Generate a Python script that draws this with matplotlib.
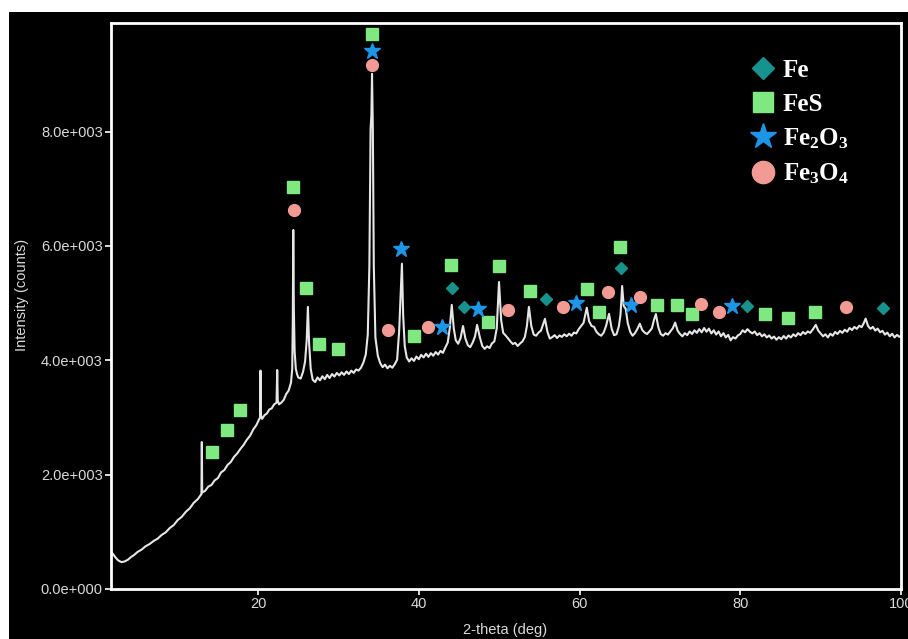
import matplotlib
matplotlib.use("Agg")
import matplotlib.pyplot as plt
from matplotlib.patches import Rectangle
from matplotlib.lines import Line2D
from matplotlib.ticker import FuncFormatter, FixedLocator

plt.rcParams['font.family'] = ['Liberation Sans', 'DejaVu Sans']
plt.rcParams['mathtext.fontset'] = 'custom'
plt.rcParams['mathtext.rm'] = 'Liberation Serif:bold'
plt.rcParams['mathtext.it'] = 'Liberation Serif:bold'
plt.rcParams['mathtext.bf'] = 'Liberation Serif:bold'

# ---------------- data ----------------
trace_2theta = [
    1.7, 2.0, 2.3, 2.6, 3.0, 3.4, 3.8, 4.2, 4.6, 5.0, 5.5, 6.0, 6.5, 7.0, 7.5, 8.0,
    8.5, 9.0, 9.5, 10.0, 10.5, 11.0, 11.5, 12.0, 12.5, 12.9, 12.95, 13.0, 13.05,
    13.4, 13.8, 14.2, 14.6, 15.0, 15.4, 15.8, 16.2, 16.6, 17.0, 17.4, 17.8, 18.2,
    18.6, 19.0, 19.4, 19.8, 20.1, 20.25, 20.3, 20.35, 20.5, 20.8, 21.1, 21.4, 21.7,
    22.0, 22.3, 22.38, 22.45, 22.6, 22.9, 23.2, 23.5, 23.8, 24.1, 24.25, 24.32,
    24.38, 24.45, 24.55, 24.7, 24.85, 25.0, 25.3, 25.6, 25.85, 26.05, 26.2, 26.35,
    26.55, 26.8, 27.1, 27.4, 27.7, 28.0, 28.3, 28.6, 28.9, 29.2, 29.5, 29.8, 30.1,
    30.4, 30.7, 31.0, 31.3, 31.6, 31.9, 32.2, 32.5, 32.8, 33.1, 33.4, 33.65, 33.85,
    34.0, 34.1, 34.18, 34.28, 34.4, 34.6, 34.9, 35.2, 35.5, 35.8, 36.1, 36.4, 36.7,
    37.0, 37.3, 37.55, 37.75, 37.9, 38.05, 38.25, 38.5, 38.8, 39.1, 39.4, 39.7,
    40.0, 40.3, 40.6, 40.9, 41.2, 41.5, 41.8, 42.1, 42.4, 42.7, 43.0, 43.3, 43.6,
    43.85, 44.1, 44.35, 44.6, 44.9, 45.2, 45.5, 45.8, 46.1, 46.4, 46.7, 47.0, 47.25,
    47.6, 47.9, 48.2, 48.5, 48.8, 49.1, 49.4, 49.7, 49.98, 50.25, 50.5, 50.8, 51.1,
    51.4, 51.7, 52.0, 52.3, 52.6, 52.9, 53.2, 53.45, 53.7, 54.0, 54.3, 54.6, 54.9,
    55.2, 55.45, 55.7, 56.0, 56.3, 56.6, 56.9, 57.2, 57.5, 57.8, 58.1, 58.4, 58.7,
    59.0, 59.3, 59.6, 59.9, 60.2, 60.5, 60.9, 61.2, 61.5, 61.8, 62.1, 62.4, 62.7,
    63.0, 63.3, 63.67, 64.0, 64.3, 64.6, 64.9, 65.1, 65.3, 65.5, 65.75, 66.0, 66.3,
    66.6, 66.9, 67.2, 67.5, 67.8, 68.1, 68.4, 68.7, 69.0, 69.25, 69.5, 69.8, 70.1,
    70.4, 70.7, 71.0, 71.3, 71.6, 71.9, 72.2, 72.5, 72.8, 73.1, 73.4, 73.7, 74.0,
    74.3, 74.6, 74.9, 75.2, 75.5, 75.8, 76.1, 76.4, 76.7, 77.0, 77.3, 77.6, 77.9,
    78.2, 78.5, 78.8, 79.1, 79.4, 79.7, 80.0, 80.3, 80.6, 80.9, 81.2, 81.5, 81.8,
    82.1, 82.4, 82.7, 83.0, 83.3, 83.6, 83.9, 84.2, 84.5, 84.8, 85.1, 85.4, 85.7,
    86.0, 86.3, 86.6, 86.9, 87.2, 87.5, 87.8, 88.1, 88.4, 88.7, 89.0, 89.4, 89.7,
    90.0, 90.3, 90.6, 90.9, 91.2, 91.5, 91.8, 92.1, 92.4, 92.7, 93.0, 93.3, 93.6,
    93.9, 94.2, 94.5, 94.8, 95.1, 95.35, 95.6, 95.9, 96.2, 96.5, 96.8, 97.1, 97.4,
    97.7, 98.0, 98.3, 98.6, 98.9, 99.2, 99.5, 99.8, 100.0,
]
trace_counts = [
    660, 600, 545, 500, 470, 482, 512, 560, 598, 648, 688, 748, 786, 840, 880, 945,
    990, 1065, 1118, 1205, 1262, 1348, 1412, 1508, 1572, 1650, 1655, 2570, 1690,
    1715, 1790, 1820, 1900, 1940, 2040, 2080, 2170, 2220, 2310, 2370, 2450, 2520,
    2610, 2680, 2790, 2870, 2960, 3000, 3820, 3040, 2975, 3040, 3070, 3140, 3160,
    3230, 3260, 3830, 3300, 3230, 3260, 3310, 3410, 3470, 3610, 3850, 4700,
    6280, 4900, 4150, 3850, 3760, 3700, 3680, 3800, 3980, 4350, 4935, 4300,
    3850, 3660, 3620, 3700, 3650, 3720, 3670, 3745, 3690, 3760, 3715, 3780, 3735,
    3790, 3745, 3805, 3760, 3820, 3780, 3840, 3820, 3870, 3960, 4100, 4450, 5650,
    8050, 8280, 9010, 8050, 5650, 4400, 4080, 3950, 3880, 3925, 3860, 3905, 3870,
    3930, 4010, 4500, 5200, 5690, 4800, 4250, 4050, 3980, 4035, 3990, 4065,
    4020, 4095, 4050, 4115, 4060, 4125, 4080, 4145, 4100, 4165, 4130, 4225, 4310,
    4560, 4970, 4560, 4350, 4290, 4390, 4600, 4380, 4265, 4230, 4310, 4420, 4620,
    4400, 4250, 4200, 4245, 4215, 4295, 4330, 4560, 5370, 4700, 4480, 4435, 4385,
    4330, 4285, 4305, 4250, 4295, 4330, 4410, 4600, 4935, 4600, 4450, 4430, 4485,
    4520, 4625, 4725, 4500, 4380, 4405, 4440, 4390, 4435, 4410, 4455, 4420, 4465,
    4430, 4485, 4470, 4545, 4600, 4655, 4920, 4680, 4600, 4585, 4500, 4455, 4430,
    4485, 4600, 4813, 4550, 4440, 4455, 4600, 4800, 5300, 4950, 4900, 4650, 4500,
    4430, 4475, 4550, 4640, 4530, 4485, 4460, 4505, 4560, 4700, 4810, 4580, 4460,
    4430, 4475, 4450, 4505, 4560, 4660, 4520, 4460, 4420, 4475, 4440, 4505, 4460,
    4525, 4480, 4545, 4490, 4565, 4500, 4555, 4470, 4525, 4450, 4505, 4420, 4475,
    4400, 4445, 4350, 4405, 4380, 4435, 4460, 4525, 4490, 4545, 4500, 4470, 4505,
    4440, 4475, 4420, 4455, 4400, 4435, 4380, 4415, 4360, 4405, 4370, 4425, 4380,
    4435, 4400, 4455, 4420, 4475, 4440, 4495, 4460, 4505, 4480, 4535, 4620, 4520,
    4470, 4420, 4455, 4400, 4465, 4430, 4495, 4460, 4515, 4480, 4535, 4500, 4565,
    4530, 4585, 4550, 4605, 4580, 4645, 4730, 4600, 4550, 4585, 4520, 4555, 4490,
    4515, 4450, 4485, 4420, 4465, 4400, 4445, 4410, 4430,
]

fe_2theta = [44.14, 45.63, 55.83, 65.16, 80.84, 97.76]
fe_counts = [5268, 4935, 5075, 5618, 4953, 4918]

fes_2theta = [14.28, 16.14, 17.76, 24.35, 25.97, 27.59, 29.95, 34.18, 39.41, 44.01,
              48.62, 49.98, 53.84, 60.93, 62.43, 65.04, 69.64, 72.13, 74.00, 83.08,
              85.94, 89.30]
fes_counts = [2398, 2783, 3133, 7035, 5268, 4288, 4200, 9713, 4428, 5670,
              4673, 5653, 5215, 5250, 4848, 5985, 4970, 4970, 4813, 4813,
              4743, 4848]

fe2o3_2theta = [34.18, 37.79, 42.89, 47.37, 59.56, 66.41, 78.97]
fe2o3_counts = [9415, 5950, 4585, 4900, 5005, 4970, 4953]

fe3o4_2theta = [24.48, 34.18, 36.17, 41.15, 51.10, 57.95, 63.55, 67.53, 75.12,
                77.36, 93.16]
fe3o4_counts = [6633, 9170, 4533, 4585, 4883, 4935, 5198, 5110, 4988,
                4848, 4935]

phase_labels = ['Fe', 'FeS', 'Fe$_2$O$_3$', 'Fe$_3$O$_4$']
x_ticks = [20, 40, 60, 80, 100]
y_ticks = [0, 2000, 4000, 6000, 8000]

# ---------------- styles ----------------
c_fe = '#17928D'
c_fes = '#80E880'
c_fe2o3 = '#1E96E8'
c_fe3o4 = '#F29A94'
trace_color = '#E6E6E6'
text_color = '#DADADA'

W, H = 908, 639
fig = plt.figure(figsize=(W / 100, H / 100), dpi=100, facecolor='white')
fig.patches.append(Rectangle((9 / W, 0), (W - 9) / W, (H - 12) / H,
                             transform=fig.transFigure, facecolor='black',
                             edgecolor='none', zorder=-10))

ax = fig.add_axes([111 / W, (H - 589) / H, (901 - 111) / W, (589 - 23) / H])
ax.set_zorder(1)
ax.set_facecolor('black')

ax.plot(trace_2theta, trace_counts, color=trace_color, lw=1.5, zorder=2)

ax.plot(fe_2theta, fe_counts, ls='none', marker='D', ms=6.6, color=c_fe, zorder=3)
ax.plot(fes_2theta, fes_counts, ls='none', marker='s', ms=8, color=c_fes, zorder=3)
ax.plot(fe2o3_2theta, fe2o3_counts, ls='none', marker='*', ms=12, color=c_fe2o3, zorder=3)
ax.plot(fe3o4_2theta, fe3o4_counts, ls='none', marker='o', ms=8.5, color=c_fe3o4, zorder=3)

ax.set_xlim(1.7, 100)
ax.set_ylim(0, 9900)
ax.xaxis.set_major_locator(FixedLocator(x_ticks))
ax.yaxis.set_major_locator(FixedLocator(y_ticks))


def sci3(v, pos):
    mant, exp = f"{v:.1e}".split('e')
    return f"{mant}e{int(exp):+04d}"


ax.yaxis.set_major_formatter(FuncFormatter(sci3))

for s in ax.spines.values():
    s.set_color('white')
    s.set_linewidth(2)
ax.tick_params(axis='both', which='major', direction='out', length=4, width=1.2,
               color='white', labelcolor=text_color, labelsize=10.5, pad=2,
               top=False, right=False)

fig.text(505 / W, (H - 630) / H, '2-theta (deg)', color=text_color, fontsize=10.5,
         ha='center', va='center')
fig.text(22 / W, (H - 295) / H, 'Intensity (counts)', color=text_color, fontsize=10.5,
         ha='center', va='center', rotation=90)

handles = [
    Line2D([], [], ls='none', marker='D', ms=11.5, color=c_fe),
    Line2D([], [], ls='none', marker='s', ms=14, color=c_fes),
    Line2D([], [], ls='none', marker='*', ms=19, color=c_fe2o3),
    Line2D([], [], ls='none', marker='o', ms=16, color=c_fe3o4),
]
leg = ax.legend(handles, phase_labels, loc='upper left', bbox_to_anchor=(0.809, 0.936),
                frameon=False, borderpad=0, handlelength=1.0, handletextpad=0.3,
                labelspacing=0.42, borderaxespad=0,
                prop={'family': 'Liberation Serif', 'weight': 'bold', 'size': 18})
for t in leg.get_texts():
    t.set_color('white')

fig.savefig('out.png', dpi=100, facecolor=fig.get_facecolor())
